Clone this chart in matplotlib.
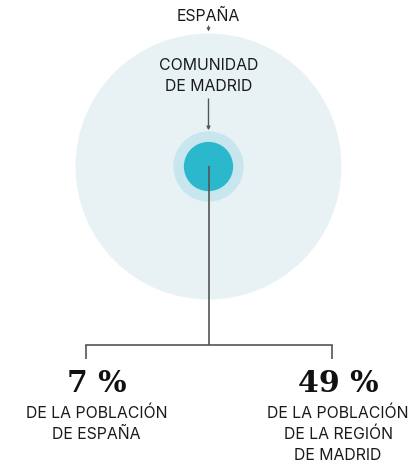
import matplotlib
matplotlib.use("Agg")
import matplotlib.pyplot as plt
from matplotlib.patches import Circle
import numpy as np

# Data
circle_labels = ["ESPAÑA", "COMUNIDAD\nDE MADRID", "MUNICIPIO"]
circle_areas = [100.0, 7.0, 7.0 * 0.49]   # relative areas
circle_colors = ["#e8f2f5", "#c8e6ee", "#2bb8cc"]
pct_values = [7, 49]
pct_labels = ["DE LA POBLACIÓN\nDE ESPAÑA", "DE LA POBLACIÓN\nDE LA REGIÓN\nDE MADRID"]

W, H = 409, 465
fig = plt.figure(figsize=(W / 100, H / 100), dpi=100)
ax = fig.add_axes([0, 0, 1, 1])
ax.set_xlim(0, W)
ax.set_ylim(H, 0)
ax.set_aspect("equal")
ax.axis("off")

cx, cy = 208.5, 166.5
R = 133.0
radii = [R * np.sqrt(a / circle_areas[0]) for a in circle_areas]
for r, c in zip(radii, circle_colors):
    ax.add_patch(Circle((cx, cy), r, facecolor=c, edgecolor="none", zorder=1))

sans = ["Inter", "DejaVu Sans"]
txtc = "#1a1a1a"
linec = "#555555"
fs = 11.4
lh = 21


def multiline(x, y0, text, **kw):
    for i, line in enumerate(text.split("\n")):
        ax.text(x, y0 + i * lh, line, ha="center", va="center", fontsize=fs,
                family=sans, color=txtc, zorder=4, **kw)


# ESPAÑA label + arrow
multiline(cx, 16, circle_labels[0])
ax.annotate("", xy=(cx, cy - radii[0] - 2), xytext=(cx, 26),
            arrowprops=dict(arrowstyle="->", color=linec, lw=0.8,
                            mutation_scale=5, shrinkA=0, shrinkB=0))

# COMUNIDAD DE MADRID label + arrow
multiline(cx, 65, circle_labels[1])
ax.annotate("", xy=(cx, cy - radii[1] - 1), xytext=(cx, 99),
            arrowprops=dict(arrowstyle="->", color=linec, lw=1.0,
                            mutation_scale=5, shrinkA=0, shrinkB=0))

# connector lines
ybar = 345.5
xl, xr = 85.5, 332
ax.plot([cx, cx], [cy, ybar], color=linec, lw=1.2, zorder=3, solid_capstyle="butt")
ax.plot([xl, xr], [ybar, ybar], color=linec, lw=1.2, zorder=3, solid_capstyle="projecting")
ax.plot([xl, xl], [ybar, 359], color=linec, lw=1.2, zorder=3, solid_capstyle="butt")
ax.plot([xr, xr], [ybar, 359], color=linec, lw=1.2, zorder=3, solid_capstyle="butt")

# percentages
for x, v, lab in zip([96.5, 338], pct_values, pct_labels):
    ax.text(x, 384, f"{v} %", ha="center", va="center", fontsize=21.5,
            family="DejaVu Serif", fontweight="bold", color="#111111")
    multiline(x, 413, lab)

fig.savefig("out.png", dpi=100, facecolor="white")
